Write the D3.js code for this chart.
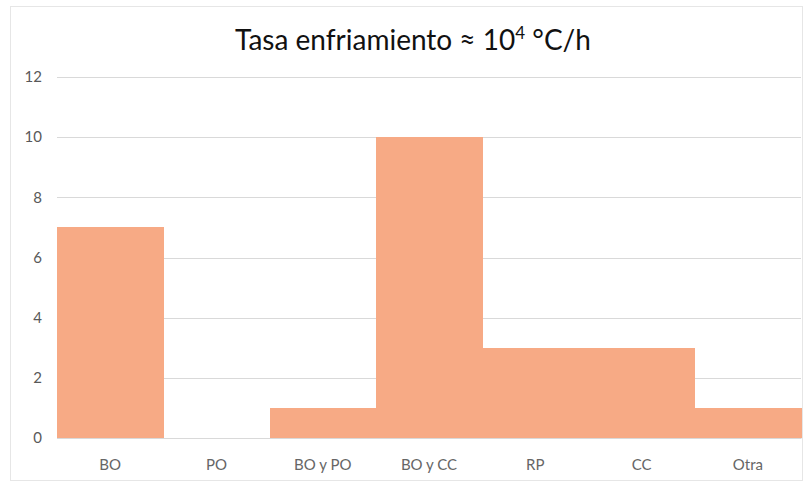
<!DOCTYPE html>
<html>
<head>
<meta charset="utf-8">
<script src="https://cdn.jsdelivr.net/npm/d3@7"></script>
<style>
  body { margin: 0; background: #fff; }
  svg { display: block; font-family: Lato, "Open Sans", sans-serif; }
</style>
</head>
<body>
<svg id="chart" width="804" height="486"></svg>
<script>
// Cooling-rate histogram data
const categories = ["BO", "PO", "BO y PO", "BO y CC", "RP", "CC", "Otra"];
const counts = [7, 0, 1, 10, 3, 3, 1];
const yTicks = [0, 2, 4, 6, 8, 10, 12];

const svg = d3.select("#chart");
const margin = { left: 57, right: 3, top: 77, bottom: 48 };
const W = 804, H = 486;

// Light frame around the chart area
svg.append("rect")
  .attr("x", 10.5).attr("y", 6.5)
  .attr("width", W - 12).attr("height", H - 12)
  .attr("fill", "none").attr("stroke", "#e6e6e6");

const x = d3.scaleBand()
  .domain(categories)
  .range([margin.left, W - margin.right])
  .paddingInner(0).paddingOuter(0);

const y = d3.scaleLinear()
  .domain([0, 12])
  .range([H - margin.bottom, margin.top]);

// Gridlines
svg.append("g")
  .selectAll("line")
  .data(yTicks)
  .join("line")
  .attr("x1", margin.left).attr("x2", W - margin.right)
  .attr("y1", d => Math.round(y(d)) + 0.5)
  .attr("y2", d => Math.round(y(d)) + 0.5)
  .attr("stroke", "#d9d9d9").attr("stroke-width", 1);

// Bars
svg.append("g")
  .attr("shape-rendering", "crispEdges")
  .selectAll("rect")
  .data(categories.map((c, i) => ({ c, v: counts[i] })).filter(d => d.v > 0))
  .join("rect")
  .attr("x", d => x(d.c))
  .attr("width", x.bandwidth() + 0.5)
  .attr("y", d => y(d.v))
  .attr("height", d => y(0) - y(d.v))
  .attr("fill", "#f7aa85");

// Y axis
const yAxis = d3.axisLeft(y).tickValues(yTicks).tickSize(0).tickPadding(15);
const gy = svg.append("g")
  .attr("transform", `translate(${margin.left},0)`)
  .call(yAxis);
gy.select(".domain").remove();
gy.selectAll("text").attr("fill", "#595959").style("font-size", "15px")
  .style("font-family", "Lato, 'Open Sans', sans-serif");

// X axis
const xAxis = d3.axisBottom(x).tickSize(0).tickPadding(21);
const gx = svg.append("g")
  .attr("transform", `translate(0,${H - margin.bottom})`)
  .call(xAxis);
gx.select(".domain").attr("stroke", "#d9d9d9");
gx.selectAll("text").attr("fill", "#666666").style("font-size", "15px")
  .style("font-family", "Lato, 'Open Sans', sans-serif");

// Title
const title = svg.append("text")
  .attr("x", 413).attr("y", 50)
  .attr("text-anchor", "middle")
  .attr("fill", "#111")
  .style("font-size", "28px");
title.append("tspan").text("Tasa enfriamiento ≈ 10");
title.append("tspan").text("4").attr("dy", -11).style("font-size", "17px");
title.append("tspan").text(" °C/h").attr("dy", 11);
</script>
</body>
</html>
